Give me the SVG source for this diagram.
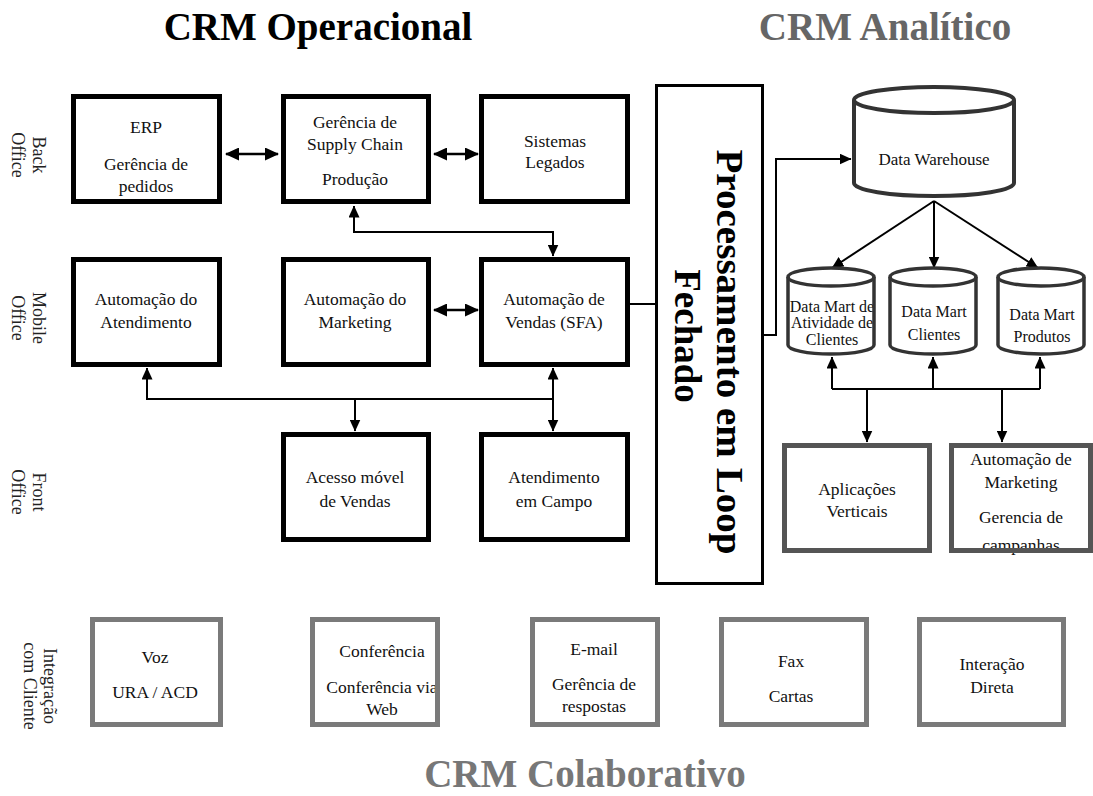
<svg xmlns="http://www.w3.org/2000/svg" width="1093" height="796" viewBox="0 0 1093 796">
<style>
text{font-family:"Liberation Serif","Times New Roman",serif;}
.t{font-size:17.5px;fill:#111;text-anchor:middle;}
.dm{font-size:16px;fill:#111;text-anchor:middle;}
.lbl{font-size:18px;fill:#222;text-anchor:middle;}
.title{font-size:39px;font-weight:bold;text-anchor:middle;}
.bx{fill:none;stroke:#000;stroke-width:5;}
.gbx{fill:none;stroke:#555;stroke-width:5;}
.cbx{fill:none;stroke:#7a7a7a;stroke-width:5;}
.cyl{fill:none;stroke:#333;stroke-width:3.5;}
.c{fill:none;stroke:#000;stroke-width:2;}
.cb{fill:none;stroke:#000;stroke-width:2.6;}
</style>
<defs>
<marker id="ah" viewBox="0 0 14 13" refX="13" refY="6.5" markerWidth="14" markerHeight="13" markerUnits="userSpaceOnUse" orient="auto-start-reverse"><path d="M0,0 L14,6.5 L0,13 Z" fill="#000"/></marker>
<marker id="as" viewBox="0 0 12 11" refX="11.5" refY="5.5" markerWidth="12" markerHeight="11" markerUnits="userSpaceOnUse" orient="auto-start-reverse"><path d="M0,0 L12,5.5 L0,11 Z" fill="#000"/></marker>
</defs>
<rect width="1093" height="796" fill="#fff"/>

<g id="titles">
<text class="title" x="318" y="40" fill="#000">CRM Operacional</text>
<text class="title" x="885" y="40" fill="#666">CRM Analítico</text>
<text class="title" x="585" y="787" fill="#777">CRM Colaborativo</text>
</g>

<g id="row-labels">
<text class="lbl" transform="translate(33,155) rotate(90)"><tspan x="0" y="0">Back</tspan><tspan x="0" dy="21">Office</tspan></text>
<text class="lbl" transform="translate(33,318) rotate(90)"><tspan x="0" y="0">Mobile</tspan><tspan x="0" dy="21">Office</tspan></text>
<text class="lbl" transform="translate(33,492) rotate(90)"><tspan x="0" y="0">Front</tspan><tspan x="0" dy="21">Office</tspan></text>
<text class="lbl" transform="translate(44,686) rotate(90)"><tspan x="0" y="0">Integração</tspan><tspan x="0" dy="20">com Cliente</tspan></text>
</g>

<g id="connectors">
<line class="cb" x1="226" y1="154" x2="278" y2="154" marker-start="url(#ah)" marker-end="url(#ah)"/>
<line class="cb" x1="434" y1="154" x2="478" y2="154" marker-start="url(#ah)" marker-end="url(#ah)"/>
<line class="cb" x1="434" y1="310" x2="478" y2="310" marker-start="url(#ah)" marker-end="url(#ah)"/>
<path class="c" d="M354,206 V232 H553 V256" marker-start="url(#as)" marker-end="url(#as)"/>
<path class="c" d="M147,368 V399 H553"  marker-start="url(#as)"/>
<path class="c" d="M553,368 V431" marker-start="url(#as)" marker-end="url(#as)"/>
<path class="c" d="M355,399 V431" marker-end="url(#as)"/>
<path class="c" d="M630,304 H655"/>
<path class="c" d="M764,335 H776 V159 H851" marker-end="url(#as)"/>
<path class="c" d="M934,201 L832,268" marker-end="url(#as)"/>
<path class="c" d="M934,201 V268" marker-end="url(#as)"/>
<path class="c" d="M934,201 L1038,268" marker-end="url(#as)"/>
<path class="c" d="M832,389 V357" marker-end="url(#as)"/>
<path class="c" d="M933,389 V357" marker-end="url(#as)"/>
<path class="c" d="M1040,389 V357" marker-end="url(#as)"/>
<path class="c" d="M832,389 H1040"/>
<path class="c" d="M867,389 V442" marker-end="url(#as)"/>
<path class="c" d="M1002,389 V442" marker-end="url(#as)"/>
</g>

<g id="erp">
<text class="t" x="146" y="133">ERP</text>
<text class="t" x="146" y="170">Gerência de</text>
<text class="t" x="146" y="192">pedidos</text>
<rect class="bx" x="73.5" y="96.5" width="146" height="105"/>
</g>
<g id="supply-chain">
<text class="t" x="355" y="128">Gerência de</text>
<text class="t" x="355" y="150">Supply Chain</text>
<text class="t" x="355" y="185">Produção</text>
<rect class="bx" x="283.5" y="96.5" width="145" height="105"/>
</g>
<g id="legados">
<text class="t" x="555" y="147">Sistemas</text>
<text class="t" x="555" y="168">Legados</text>
<rect class="bx" x="481.5" y="96.5" width="146" height="105"/>
</g>

<g id="aut-atendimento">
<text class="t" x="146" y="305">Automação do</text>
<text class="t" x="146" y="328">Atendimento</text>
<rect class="bx" x="73.5" y="259.5" width="146" height="105"/>
</g>
<g id="aut-marketing">
<text class="t" x="355" y="305">Automação do</text>
<text class="t" x="355" y="328">Marketing</text>
<rect class="bx" x="283.5" y="259.5" width="145" height="105"/>
</g>
<g id="aut-vendas">
<text class="t" x="554" y="305">Automação de</text>
<text class="t" x="554" y="328">Vendas (SFA)</text>
<rect class="bx" x="481.5" y="259.5" width="146" height="105"/>
</g>

<g id="acesso-movel">
<text class="t" x="355" y="483">Acesso móvel</text>
<text class="t" x="355" y="507">de Vendas</text>
<rect class="bx" x="283.5" y="434.5" width="145" height="105"/>
</g>
<g id="atendimento-campo">
<text class="t" x="554" y="483">Atendimento</text>
<text class="t" x="554" y="507">em Campo</text>
<rect class="bx" x="481.5" y="434.5" width="146" height="105"/>
</g>

<g id="loop-fechado">
<rect x="656.5" y="85.5" width="106" height="498" fill="none" stroke="#000" stroke-width="3"/>
<text transform="translate(717,352) rotate(90)" font-size="37" font-weight="bold" text-anchor="middle" textLength="405" lengthAdjust="spacingAndGlyphs" fill="#000">Processamento em Loop</text>
<text transform="translate(675,336) rotate(90)" font-size="37" font-weight="bold" text-anchor="middle" fill="#000">Fechado</text>
</g>

<g id="data-warehouse">
<path d="M854,100 A80,13 0 0 1 1014,100 V183 A80,13 0 0 1 854,183 Z" fill="#fff" stroke="#333" stroke-width="4"/>
<path d="M854,100 A80,13 0 0 0 1014,100" fill="none" stroke="#333" stroke-width="4"/>
<text x="934" y="165" font-size="17" fill="#111" text-anchor="middle">Data Warehouse</text>
</g>

<g id="dm-atividade">
<text class="dm" x="832" y="312">Data Mart de</text>
<text class="dm" x="832" y="328">Atividade de</text>
<text class="dm" x="832" y="345">Clientes</text>
<path class="cyl" d="M788,277 A43,9 0 0 1 874,277 V345 A43,9 0 0 1 788,345 Z"/>
<path class="cyl" d="M788,277 A43,9 0 0 0 874,277"/>
</g>
<g id="dm-clientes">
<text class="dm" x="934" y="317">Data Mart</text>
<text class="dm" x="934" y="340">Clientes</text>
<path class="cyl" d="M890,277 A43,9 0 0 1 976,277 V345 A43,9 0 0 1 890,345 Z"/>
<path class="cyl" d="M890,277 A43,9 0 0 0 976,277"/>
</g>
<g id="dm-produtos">
<text class="dm" x="1042" y="320">Data Mart</text>
<text class="dm" x="1042" y="342">Produtos</text>
<path class="cyl" d="M998,277 A43,9 0 0 1 1084,277 V345 A43,9 0 0 1 998,345 Z"/>
<path class="cyl" d="M998,277 A43,9 0 0 0 1084,277"/>
</g>

<g id="aplicacoes">
<text class="t" x="857" y="495">Aplicações</text>
<text class="t" x="857" y="517">Verticais</text>
<rect class="gbx" x="784.5" y="445.5" width="145" height="105"/>
</g>
<g id="aut-marketing-campanhas">
<text class="t" x="1021" y="465">Automação de</text>
<text class="t" x="1021" y="488">Marketing</text>
<text class="t" x="1021" y="523">Gerencia de</text>
<text class="t" x="1021" y="551">campanhas</text>
<rect class="gbx" x="951.5" y="445.5" width="139" height="105"/>
</g>

<g id="voz">
<text class="t" x="155" y="663">Voz</text>
<text class="t" x="155" y="698">URA / ACD</text>
<rect class="cbx" x="92.5" y="619.5" width="128" height="105"/>
</g>
<g id="conferencia">
<text class="t" x="382" y="657">Conferência</text>
<text class="t" x="382" y="693">Conferência via</text>
<text class="t" x="382" y="715">Web</text>
<rect class="cbx" x="312.5" y="619.5" width="125" height="105"/>
</g>
<g id="email">
<text class="t" x="594" y="655">E-mail</text>
<text class="t" x="594" y="690">Gerência de</text>
<text class="t" x="594" y="712">respostas</text>
<rect class="cbx" x="532.5" y="619.5" width="125" height="105"/>
</g>
<g id="fax">
<text class="t" x="791" y="667">Fax</text>
<text class="t" x="791" y="702">Cartas</text>
<rect class="cbx" x="721.5" y="619.5" width="145" height="105"/>
</g>
<g id="interacao">
<text class="t" x="992" y="670">Interação</text>
<text class="t" x="992" y="693">Direta</text>
<rect class="cbx" x="919.5" y="619.5" width="144" height="105"/>
</g>
</svg>
